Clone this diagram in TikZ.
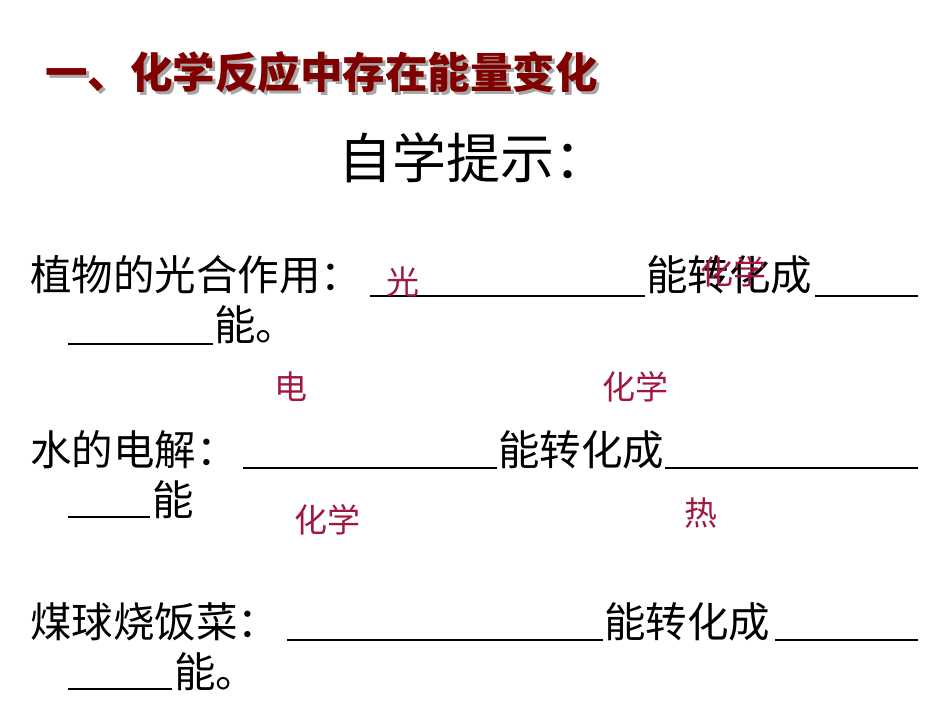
\documentclass[tikz,border=0pt]{standalone}
\usepackage{fontspec}
\newfontfamily\cjk{Noto Sans CJK SC}
\definecolor{ans}{HTML}{A0173F}
\definecolor{ttl}{HTML}{800000}
\begin{document}
\begin{tikzpicture}[x=1pt,y=-1pt,
  body/.style={anchor=west,inner sep=0,font=\cjk\fontsize{41.5}{41.5}\selectfont},
  red/.style={anchor=west,inner sep=0,text=ans,font=\cjk\fontsize{33}{33}\selectfont},
  blank/.style={line width=2pt}]
\useasboundingbox[fill=white] (0,0) rectangle (950,713);
\node[anchor=west,inner sep=0,text=gray!70,font=\cjk\bfseries\fontsize{42.5}{42.5}\selectfont] at (48,75) {一、化学反应中存在能量变化};
\node[anchor=west,inner sep=0,text=ttl,font=\cjk\bfseries\fontsize{42.5}{42.5}\selectfont] (title) at (45,72) {一、化学反应中存在能量变化};
\node[anchor=west,inner sep=0,font=\cjk\fontsize{54}{54}\selectfont] (hint) at (338,158) {自学提示：};
% line 1
\node[body] (l1) at (30,275) {植物的光合作用：};
\draw[blank] (370,296) -- (645,296);
\node[body] (l1b) at (646,275) {能转化成};
\draw[blank] (815,296) -- (918,296);
\draw[blank] (68,344) -- (213,344);
\node[body] (l1c) at (214,325) {能。};
\node[red] (a1) at (386,282) {光};
\node[red] (a2) at (700,272) {化学};
% line 2
\node[red] (a3) at (274,387) {电};
\node[red] (a4) at (602,387) {化学};
\node[body] (l2) at (30,450) {水的电解：};
\draw[blank] (243,468) -- (497,468);
\node[body] (l2b) at (498,450) {能转化成};
\draw[blank] (665,468) -- (918,468);
\draw[blank] (68,517) -- (150,517);
\node[body] (l2c) at (152,500) {能};
\node[red] (a5) at (294,520) {化学};
\node[red] (a6) at (684,513) {热};
% line 3
\node[body] (l3) at (30,622) {煤球烧饭菜：};
\draw[blank] (287,640) -- (603,640);
\node[body] (l3b) at (604,622) {能转化成};
\draw[blank] (775,640) -- (918,640);
\draw[blank] (68,689) -- (172,689);
\node[body] (l3c) at (174,672) {能。};
\end{tikzpicture}
\end{document}
